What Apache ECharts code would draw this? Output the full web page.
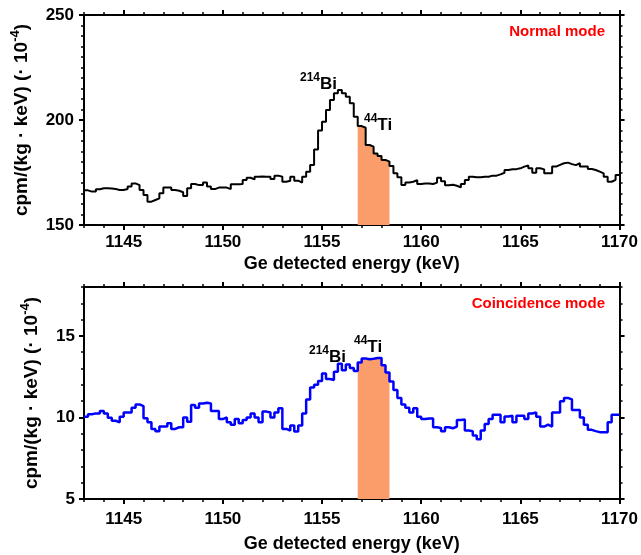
<!DOCTYPE html>
<html>
<head>
<meta charset="utf-8">
<script src="https://cdn.jsdelivr.net/npm/echarts@6/dist/echarts.min.js"></script>
<style>
  html, body { margin: 0; padding: 0; background: #fff; }
  #main { width: 641px; height: 555px; }
</style>
</head>
<body>
<div id="main"></div>
<script>
// spectra are histograms with 0.2 keV bins starting at 1143 keV
const binStart = 1143;
const binWidth = 0.2;
const xMin = 1143;
const xMax = 1170;
const xMajorTicks = [1145, 1150, 1155, 1160, 1165, 1170];

// 44Ti region shaded in both panels
const fillFrom = 1156.8;
const fillTo = 1158.4;

// normal mode, cpm/(kg keV) x 1e-4
const normalCounts = [
  166.5, 165.9, 165.9, 167.0, 167.5, 167.5, 167.4, 167.1, 166.7, 166.7,
  167.1, 168.3, 169.8, 169.0, 166.7, 164.3, 161.1, 161.9, 162.7, 165.1,
  167.8, 167.8, 166.7, 166.3, 165.6, 163.8, 167.5, 169.5, 169.0, 169.0,
  170.2, 168.3, 167.1, 167.8, 167.8, 167.8, 167.1, 169.4, 169.4, 169.5,
  171.4, 172.5, 171.7, 173.0, 173.1, 173.0, 173.0, 171.9, 173.5, 173.0,
  170.6, 171.1, 173.0, 171.1, 170.2, 173.0, 175.4, 178.6, 186.0, 195.0,
  199.2, 204.8, 209.5, 212.7, 214.3, 212.7, 211.1, 208.0, 201.6, 197.1,
  196.3, 188.1, 187.3, 184.1, 182.9, 181.0, 180.2, 178.1, 174.6, 172.7,
  169.0, 170.2, 170.6, 171.4, 169.5, 169.8, 169.8, 169.5, 170.2, 172.5,
  170.8, 168.9, 169.2, 168.7, 167.9, 169.5, 171.4, 173.0, 172.7, 172.7,
  173.0, 173.0, 173.5, 173.5, 174.1, 174.9, 176.2, 176.5, 176.6, 177.0,
  177.8, 178.3, 177.0, 174.9, 177.0, 176.5, 174.6, 174.6, 177.8, 178.6,
  179.4, 179.7, 179.0, 178.5, 179.4, 177.8, 177.8, 176.7, 176.2, 175.4,
  174.6, 173.0, 170.6, 171.5, 173.8
];

// coincidence mode
const coincCounts = [
  10.05, 10.2, 10.25, 10.24, 10.4, 10.25, 9.98, 9.8, 9.7, 10.04,
  10.3, 10.3, 10.6, 10.8, 10.7, 9.95, 9.7, 9.3, 9.16, 9.44,
  9.44, 9.64, 9.3, 9.4, 9.4, 10.0, 9.74, 10.76, 10.6, 10.86,
  10.9, 10.86, 10.4, 10.4, 9.9, 10.0, 9.7, 9.56, 9.9, 9.64,
  9.84, 10.0, 10.24, 10.0, 9.7, 10.36, 10.3, 10.0, 10.3, 10.56,
  9.3, 9.2, 9.5, 9.14, 9.5, 10.24, 11.1, 11.84, 12.0, 12.24,
  12.7, 12.36, 12.3, 12.8, 13.3, 12.9, 13.24, 13.04, 12.85, 13.37,
  13.61, 13.57, 13.6, 13.64, 13.64, 13.2, 12.76, 12.2, 11.69, 11.2,
  10.8, 10.6, 10.3, 10.56, 10.04, 9.9, 9.94, 9.94, 9.4, 9.36,
  9.16, 9.4, 9.34, 9.44, 9.84, 9.88, 9.2, 9.16, 8.9, 8.66,
  9.2, 9.6, 9.9, 10.16, 10.16, 9.7, 10.06, 10.1, 9.7, 10.1,
  10.1, 9.9, 10.24, 10.3, 10.04, 9.44, 9.56, 9.44, 10.3, 10.3,
  11.0, 11.2, 11.1, 10.46, 10.46, 10.0, 9.56, 9.24, 9.16, 9.1,
  9.1, 9.1, 9.7, 10.16, 10.16
];

const fontFamily = '"Liberation Sans", Arial, sans-serif';
const black = '#000';
const fillColor = '#FA9D6A';

function binEdge(i) {
  return Math.round((binStart + i * binWidth) * 10) / 10;
}

// points for a step line ('end'): each bin holds its value until the next edge
function stepData(values, i0, i1) {
  const pts = [];
  for (let i = i0; i < i1; i++) pts.push([binEdge(i), values[i]]);
  pts.push([binEdge(i1), values[i1 - 1]]);
  return pts;
}

const iFrom = Math.round((fillFrom - binStart) / binWidth);
const iTo = Math.round((fillTo - binStart) / binWidth);

const plain = v => String(v);
const labelFont = { fontFamily: fontFamily, fontSize: 17, fontWeight: 'bold', color: black, formatter: plain };
const yName = 'cpm/(kg \u00B7 keV) (\u00B7 10{s|-4})';
const yNameStyle = {
  fontFamily: fontFamily, fontSize: 19, fontWeight: 'bold', color: black, lineHeight: 26,
  rich: { s: { fontFamily: fontFamily, fontSize: 13, fontWeight: 'bold', color: black, verticalAlign: 'top', lineHeight: 12 } }
};

function xAxes(grid, labelMargin, nameGap) {
  const base = {
    type: 'value', gridIndex: grid, min: xMin, max: xMax, interval: 1,
    splitLine: { show: false }, axisLabel: { show: false }
  };
  const line = { show: true, onZero: false, lineStyle: { color: black, width: 2 } };
  const minor = { show: true, length: 3, lineStyle: { color: black, width: 1.5 } };
  const major = { show: true, customValues: xMajorTicks, length: 5, lineStyle: { color: black, width: 2 } };
  return [
    Object.assign({}, base, {
      position: 'bottom', axisLine: line, axisTick: minor,
      axisLabel: Object.assign({ show: true, customValues: xMajorTicks, margin: labelMargin }, labelFont),
      name: 'Ge detected energy (keV)', nameLocation: 'middle', nameGap: nameGap,
      nameTextStyle: { fontFamily: fontFamily, fontSize: 18, fontWeight: 'bold', color: black, lineHeight: 20 }
    }),
    Object.assign({}, base, { position: 'bottom', axisLine: { show: false }, axisTick: major }),
    Object.assign({}, base, { position: 'top', axisLine: line, axisTick: minor }),
    Object.assign({}, base, { position: 'top', axisLine: { show: false }, axisTick: major })
  ];
}

const line = { show: true, onZero: false, lineStyle: { color: black, width: 2 } };

// top panel y: 150..250
const topY = [
  {
    type: 'value', gridIndex: 0, position: 'left', min: 150, max: 250, interval: 50,
    axisLine: line, axisTick: { length: 5, lineStyle: { color: black, width: 2 } },
    minorTick: { show: true, splitNumber: 10, length: 3, lineStyle: { color: black, width: 1.5 } },
    splitLine: { show: false }, minorSplitLine: { show: false },
    axisLabel: Object.assign({ margin: 10 }, labelFont),
    name: yName, nameLocation: 'middle', nameGap: 44, nameTextStyle: yNameStyle
  },
  {
    type: 'value', gridIndex: 0, position: 'right', min: 150, max: 250, interval: 50,
    axisLine: line, axisTick: { length: 5, lineStyle: { color: black, width: 2 } },
    minorTick: { show: true, splitNumber: 10, length: 3, lineStyle: { color: black, width: 1.5 } },
    splitLine: { show: false }, minorSplitLine: { show: false }, axisLabel: { show: false }
  }
];

// bottom panel y: 5..18, minor ticks every 1, majors at 5/10/15
const coincMajor = [5, 10, 15];
function coincY(pos, withLabels) {
  const base = { type: 'value', gridIndex: 1, position: pos, min: 5, max: 18, interval: 1, splitLine: { show: false } };
  const main = Object.assign({}, base, {
    axisLine: line, axisTick: { length: 3, lineStyle: { color: black, width: 1.5 } },
    axisLabel: withLabels ? Object.assign({ customValues: coincMajor, margin: 9 }, labelFont) : { show: false }
  });
  if (withLabels) {
    main.name = yName;
    main.nameLocation = 'middle';
    main.nameGap = 36;
    main.nameTextStyle = yNameStyle;
  }
  const majors = Object.assign({}, base, {
    axisLine: { show: false }, axisLabel: { show: false },
    axisTick: { customValues: coincMajor, length: 5, lineStyle: { color: black, width: 2 } }
  });
  return [main, majors];
}

function mode(text, x, y) {
  return {
    type: 'text', x: x, y: y, z: 10,
    style: {
      text: text, fill: '#FF0000', font: 'bold 15px ' + fontFamily,
      align: 'right', verticalAlign: 'middle', textAlign: 'right', textVerticalAlign: 'middle'
    }
  };
}

function isotope(mass, symbol, x, y) {
  return {
    type: 'text', x: x, y: y, z: 10,
    style: {
      text: '{s|' + mass + '}{b|' + symbol + '}',
      align: 'left', verticalAlign: 'top', textAlign: 'left', textVerticalAlign: 'top',
      rich: {
        s: { fontFamily: fontFamily, fontSize: 12, fontWeight: 'bold', fill: black, verticalAlign: 'top', lineHeight: 12 },
        b: { fontFamily: fontFamily, fontSize: 17, fontWeight: 'bold', fill: black, verticalAlign: 'bottom', lineHeight: 21 }
      }
    }
  };
}

const option = {
  animation: false,
  backgroundColor: '#fff',
  grid: [
    { left: 84, right: 21, top: 15, height: 210 },
    { left: 84, right: 21, top: 287, height: 216 }
  ],
  xAxis: xAxes(0, 9, 29).concat(xAxes(1, 12, 35)),
  yAxis: topY.concat(coincY('left', true), coincY('right', false)),
  series: [
    {
      type: 'line', xAxisIndex: 0, yAxisIndex: 0, step: 'end', symbol: 'none', silent: true, z: 1,
      data: stepData(normalCounts, iFrom, iTo),
      lineStyle: { opacity: 0 },
      areaStyle: { color: fillColor, opacity: 1, origin: 'start' }
    },
    {
      type: 'line', xAxisIndex: 0, yAxisIndex: 0, step: 'end', symbol: 'none', z: 2,
      data: stepData(normalCounts, 0, normalCounts.length),
      lineStyle: { color: black, width: 2 }
    },
    {
      type: 'line', xAxisIndex: 4, yAxisIndex: 2, step: 'end', symbol: 'none', silent: true, z: 1,
      data: stepData(coincCounts, iFrom, iTo),
      lineStyle: { opacity: 0 },
      areaStyle: { color: fillColor, opacity: 1, origin: 'start' }
    },
    {
      type: 'line', xAxisIndex: 4, yAxisIndex: 2, step: 'end', symbol: 'none', z: 2,
      data: stepData(coincCounts, 0, coincCounts.length),
      lineStyle: { color: '#0000FF', width: 2.5 }
    }
  ],
  graphic: [
    mode('Normal mode', 605, 32),
    mode('Coincidence mode', 605, 304),
    isotope('214', 'Bi', 300, 72),
    isotope('44', 'Ti', 364, 113),
    isotope('214', 'Bi', 309, 345),
    isotope('44', 'Ti', 354, 335)
  ]
};

const chart = echarts.init(document.getElementById('main'), null, { renderer: 'canvas' });
chart.setOption(option);
</script>
</body>
</html>
